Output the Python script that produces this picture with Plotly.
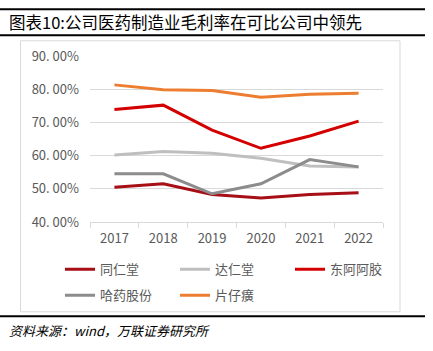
import plotly.graph_objects as go

years = ["2017", "2018", "2019", "2020", "2021", "2022"]
tongrentang = [50.5, 51.5, 48.3, 47.2, 48.3, 48.8]
darentang = [60.2, 61.2, 60.7, 59.2, 56.9, 56.6]
dongeejiao = [73.9, 75.2, 67.7, 62.2, 65.9, 70.4]
hayao = [54.5, 54.5, 48.5, 51.5, 58.8, 56.6]
pianzaihuang = [81.3, 79.8, 79.6, 77.6, 78.5, 78.8]

ytick_vals = [40, 50, 60, 70, 80, 90]
ytick_text = ["40. 00%", "50. 00%", "60. 00%", "70. 00%", "80. 00%", "90. 00%"]

W, H = 433, 351
L, R, T, B = 90, 383, 55.7, 221.7
pw, ph = R - L, B - T

def px(x):
    return (x - L) / pw

def py(y):
    return (B - y) / ph

FONT = "Noto Sans CJK SC"
fig = go.Figure()

series = [
    ("同仁堂", tongrentang, "#A50F15", "legend"),
    ("达仁堂", darentang, "#BFBFBF", "legend"),
    ("东阿阿胶", dongeejiao, "#D40000", "legend"),
    ("哈药股份", hayao, "#8C8C8C", "legend2"),
    ("片仔癀", pianzaihuang, "#ED7D31", "legend2"),
]
for name, vals, col, lg in series:
    fig.add_trace(go.Scatter(x=years, y=vals, name=name, mode="lines",
                             line=dict(color=col, width=3), legend=lg))

shapes = [
    dict(type="rect", xref="paper", yref="paper", x0=px(20.5), x1=px(400), y0=py(311.5), y1=py(40.5),
         line=dict(color="#D9D9D9", width=1)),
    dict(type="line", xref="paper", yref="paper", x0=px(0), x1=px(425), y0=py(9), y1=py(9),
         line=dict(color="black", width=2)),
    dict(type="line", xref="paper", yref="paper", x0=px(0), x1=px(425), y0=py(35), y1=py(35),
         line=dict(color="black", width=2)),
    dict(type="line", xref="paper", yref="paper", x0=px(0), x1=px(425), y0=py(316), y1=py(316),
         line=dict(color="black", width=2)),
]

fig.update_layout(
    width=W, height=H,
    margin=dict(l=L, r=W - R, t=T, b=H - B),
    paper_bgcolor="white", plot_bgcolor="white",
    font=dict(family=FONT, color="#595959", size=13),
    shapes=shapes,
    showlegend=True,
    legend=dict(orientation="h", x=px(60), y=py(254), xanchor="left", yanchor="top",
                entrywidth=70, entrywidthmode="pixels", bgcolor="rgba(0,0,0,0)",
                font=dict(size=13, color="#595959", family=FONT), itemwidth=30, tracegroupgap=0),
    legend2=dict(orientation="h", x=px(60), y=py(280), xanchor="left", yanchor="top",
                 entrywidth=70, entrywidthmode="pixels", bgcolor="rgba(0,0,0,0)",
                 font=dict(size=13, color="#595959", family=FONT), itemwidth=30, tracegroupgap=0),
    annotations=[
        dict(text="图表10:公司医药制造业毛利率在可比公司中领先", xref="paper", yref="paper",
             x=px(7), y=py(22), xanchor="left", yanchor="middle", showarrow=False,
             font=dict(size=16.5, color="black", family=FONT)),
        dict(text="资料来源：wind，万联证券研究所", xref="paper", yref="paper",
             x=px(7), y=py(330), xanchor="left", yanchor="middle", showarrow=False,
             font=dict(size=13, color="black", family=FONT, style="italic")),
    ],
)
fig.update_xaxes(type="category", range=[-0.5, 5.5], showgrid=False, showline=True,
                 linecolor="#D9D9D9", linewidth=1,
                 ticks="outside", tickson="boundaries", ticklen=5, tickcolor="#D9D9D9",
                 tickfont=dict(size=13, color="#595959"), ticklabelstandoff=4, fixedrange=True)
fig.update_yaxes(range=[40, 90], tickvals=ytick_vals, ticktext=ytick_text, showgrid=True,
                 gridcolor="#D9D9D9", gridwidth=1, zeroline=False, showline=False,
                 tickfont=dict(size=13, color="#595959"), ticklabelstandoff=10)

fig.write_html("out.html")
